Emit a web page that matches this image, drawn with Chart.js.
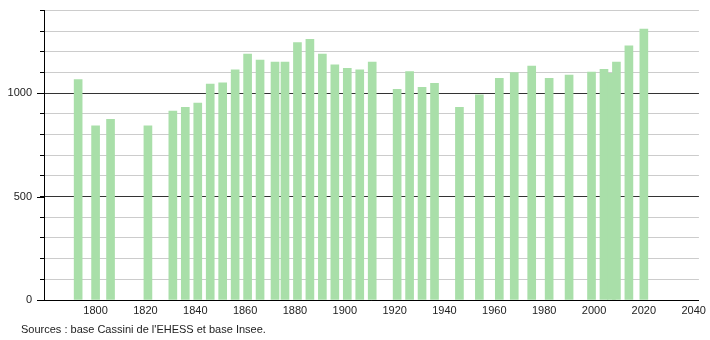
<!DOCTYPE html>
<html>
<head>
<meta charset="utf-8">
<script src="https://cdn.jsdelivr.net/npm/chart.js@4/dist/chart.umd.min.js"></script>
<style>
  html, body { margin: 0; padding: 0; background: #fff; }
  .wrap { position: relative; width: 710px; height: 340px; overflow: hidden; }
  #chart { position: absolute; left: 0; top: -4px; }
  .sources {
    position: absolute; left: 21px; top: 323px;
    font: 11px "Liberation Sans", Arial, sans-serif; color: #222;
  }
</style>
</head>
<body>
<div class="wrap">
  <canvas id="chart" width="710" height="344"></canvas>
  <div class="sources">Sources : base Cassini de l'EHESS et base Insee.</div>
</div>
<script>
const years = [1793, 1800, 1806, 1821, 1831, 1836, 1841, 1846, 1851, 1856,
  1861, 1866, 1872, 1876, 1881, 1886, 1891, 1896, 1901, 1906, 1911,
  1921, 1926, 1931, 1936, 1946, 1954, 1962, 1968, 1975, 1982, 1990,
  1999, 2004, 2007, 2009, 2014, 2020];
const population = [1066, 842, 874, 842, 914, 932, 953, 1045, 1051, 1113,
  1190, 1161, 1151, 1151, 1245, 1261, 1190, 1138, 1121, 1113, 1151,
  1019, 1105, 1029, 1048, 932, 992, 1072, 1100, 1132, 1072, 1088,
  1103, 1116, 1097, 1151, 1229, 1311];
const xTicks = [1800, 1820, 1840, 1860, 1880, 1900, 1920, 1940, 1960, 1980, 2000, 2020, 2040];
const yLabels = [0, 500, 1000];

const font = { family: '"Liberation Sans", Arial, sans-serif', size: 11 };

// longer ticks on the labelled values of the y axis
const majorTicks = {
  id: 'majorTicks',
  afterDraw(chart) {
    const y = chart.scales.y;
    const ctx = chart.ctx;
    ctx.save();
    ctx.strokeStyle = '#000';
    ctx.lineWidth = 1;
    yLabels.forEach(v => {
      const py = Math.round(y.getPixelForValue(v)) + 0.5;
      ctx.beginPath();
      ctx.moveTo(y.right - 7, py);
      ctx.lineTo(y.right, py);
      ctx.stroke();
    });
    ctx.restore();
  }
};

new Chart(document.getElementById('chart').getContext('2d'), {
  type: 'bar',
  data: {
    datasets: [{
      data: years.map((yr, i) => ({ x: yr, y: population[i] })),
      backgroundColor: '#a9dfa9',
      borderWidth: 0,
      barThickness: 8,
    }],
  },
  options: {
    animation: false,
    responsive: false,
    layout: { padding: { top: 6, right: 9, left: 0, bottom: 0 } },
    scales: {
      x: {
        type: 'linear',
        min: 1779.3,
        max: 2042.1,
        offset: false,
        afterFit(scale) { scale.height = 40; },
        afterBuildTicks(scale) { scale.ticks = xTicks.map(v => ({ value: v })); },
        grid: { display: false, drawTicks: false },
        border: { display: true, color: '#000', width: 1 },
        ticks: {
          font, color: '#222', padding: 4, maxRotation: 0, autoSkip: false,
          includeBounds: false,
          callback: v => String(v),
        },
      },
      y: {
        min: 0,
        max: 1400,
        afterFit(scale) { scale.width = 44; },
        grid: {
          color: ctx => (ctx.tick && ctx.tick.value % 500 === 0 ? '#333' : '#cccccc'),
          tickColor: '#000',
          tickLength: 4,
          lineWidth: 1,
        },
        border: { display: true, color: '#000', width: 1 },
        ticks: {
          stepSize: 100,
          font, color: '#222', padding: 8,
          autoSkip: false,
          callback: v => (yLabels.includes(v) ? String(v) : ''),
        },
      },
    },
    plugins: {
      legend: { display: false },
      tooltip: { enabled: false },
    },
  },
  plugins: [majorTicks],
});
</script>
</body>
</html>
